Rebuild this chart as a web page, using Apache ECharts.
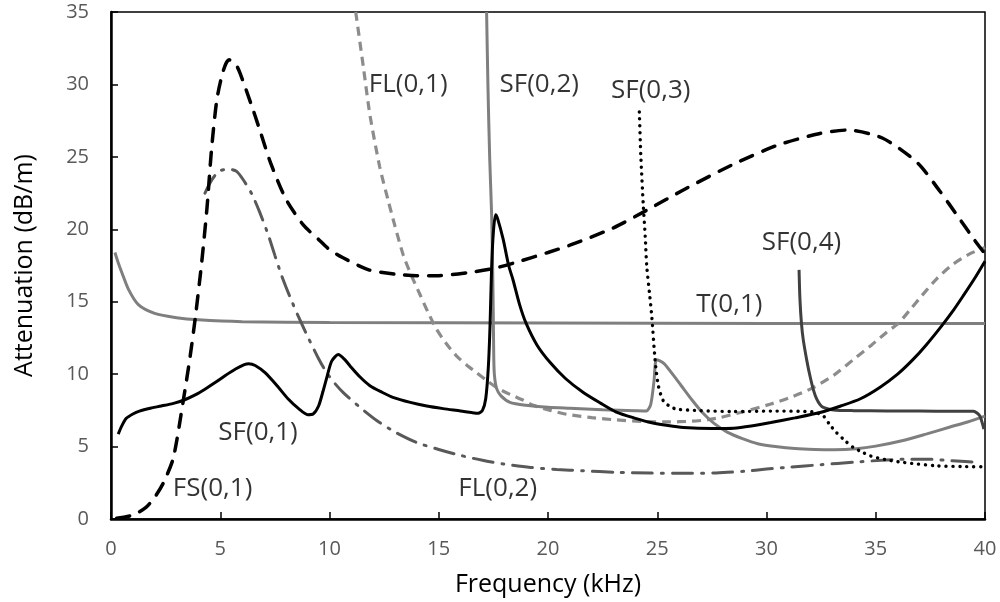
<!DOCTYPE html>
<html>
<head>
<meta charset="utf-8">
<title>Attenuation vs frequency</title>
<script src="https://cdn.jsdelivr.net/npm/echarts@6/dist/echarts.min.js"></script>
<style>
  html, body { margin: 0; padding: 0; background: #fff; }
  #chart { width: 1000px; height: 602px; }
</style>
</head>
<body>
<div id="chart"></div>
<script>
// axis ticks
var xTicks = [0, 5, 10, 15, 20, 25, 30, 35, 40];
var yTicks = [0, 5, 10, 15, 20, 25, 30, 35];

// curves, [frequency kHz, attenuation dB/m]
var sf01 = [[0.33,5.86],[0.5,6.45],[0.7,6.95],[1.0,7.25],[1.3,7.45],[1.8,7.65],[2.3,7.8],[2.9,8.0],[3.4,8.25],[3.9,8.6],[4.3,8.96],[4.8,9.45],[5.2,9.87],[5.7,10.35],[6.1,10.65],[6.3,10.72],[6.6,10.6],[7.05,10.1],[7.6,9.2],[8.1,8.3],[8.6,7.6],[9.0,7.2],[9.25,7.25],[9.5,7.8],[9.7,8.8],[9.9,9.9],[10.1,10.9],[10.4,11.35],[10.7,11.0],[10.95,10.55],[11.4,9.8],[11.85,9.2],[12.4,8.75],[12.9,8.4],[13.7,8.05],[14.45,7.8],[15.2,7.62],[16.0,7.46],[16.5,7.35],[16.8,7.3],[17.0,7.5],[17.15,8.3],[17.27,10.5],[17.35,13.5],[17.42,17.4],[17.5,19.8],[17.6,21.0],[17.7,20.7],[17.95,19.3],[18.2,17.5],[18.4,16.5],[18.7,14.8],[19.0,13.5],[19.5,12.0],[20.1,10.8],[20.8,9.7],[21.6,8.75],[22.4,8.0],[23.1,7.4],[24.0,6.95],[24.7,6.66],[25.5,6.45],[26.2,6.32],[27.5,6.25],[28.5,6.27],[29.3,6.42],[30.2,6.66],[31.3,6.98],[32.45,7.35],[33.4,7.8],[34.3,8.3],[35.2,9.1],[36.0,10.0],[36.7,11.0],[37.3,12.0],[38.0,13.3],[38.55,14.4],[39.0,15.4],[39.5,16.55],[40,17.8]];
var fs01 = [[0.26,0.05],[1.0,0.27],[1.6,0.8],[2.0,1.5],[2.4,2.5],[2.85,4.2],[3.3,8.1],[3.6,11.0],[3.85,13.8],[4.15,17.7],[4.4,21.6],[4.6,25.5],[4.85,29.0],[5.15,31.0],[5.4,31.7],[5.7,31.4],[5.9,30.8],[6.4,28.7],[6.8,26.9],[7.3,24.6],[8.0,22.1],[8.8,20.3],[9.5,19.3],[10.0,18.6],[10.6,18.05],[11.8,17.2],[13.0,16.9],[14.0,16.8],[15.0,16.8],[16.3,17.0],[17.5,17.3],[18.5,17.7],[20.0,18.4],[21.0,18.9],[23.0,20.1],[24.5,21.3],[26.3,22.8],[28.5,24.5],[30.5,25.8],[32.4,26.6],[33.7,26.85],[35.3,26.3],[36.9,24.6],[37.9,22.7],[38.8,20.8],[39.5,19.3],[40,18.3]];
var t01 = [[0.18,18.4],[0.35,17.6],[0.5,17.0],[0.8,15.85],[1.25,14.8],[2.0,14.2],[3.0,13.9],[4.0,13.75],[6.0,13.62],[10.0,13.57],[20.0,13.53],[30.0,13.5],[40,13.5]];
var fl01 = [[11.2,35],[11.55,31.2],[11.85,27.9],[12.3,24.3],[12.7,21.9],[13.0,20.2],[13.38,18.2],[13.75,16.8],[14.14,15.5],[14.5,14.3],[14.9,13.1],[15.35,12.1],[15.82,11.25],[16.3,10.6],[16.74,10.1],[17.2,9.55],[17.65,9.07],[18.26,8.6],[18.87,8.2],[19.33,7.85],[20.1,7.5],[20.86,7.23],[22.0,7.0],[23.14,6.84],[24.3,6.74],[25.43,6.7],[26.6,6.75],[27.3,6.85],[27.87,7.0],[28.8,7.35],[30.16,7.92],[31.2,8.45],[32.14,9.07],[33.1,9.95],[33.97,11.0],[34.8,12.0],[35.5,12.9],[36.03,13.5],[36.6,14.5],[37.1,15.4],[37.8,16.6],[38.55,17.6],[39.3,18.3],[40,18.75]];
var fl02 = [[4.3,22.5],[4.53,23.2],[4.75,23.7],[5.0,24.05],[5.4,24.15],[5.75,24.0],[6.06,23.4],[6.44,22.45],[6.8,21.2],[7.2,19.6],[7.5,18.2],[7.81,16.8],[8.2,15.3],[8.57,14.0],[9.0,12.6],[9.49,11.1],[9.87,10.1],[10.25,9.35],[10.63,8.73],[11.4,7.7],[12.16,6.8],[13.0,6.0],[13.99,5.28],[15.0,4.8],[15.97,4.4],[17.0,4.05],[17.95,3.8],[19.2,3.56],[20.4,3.42],[21.6,3.33],[23.1,3.22],[24.67,3.17],[26.2,3.15],[27.7,3.18],[29.0,3.3],[30.0,3.45],[31.0,3.57],[32.5,3.75],[34.0,3.92],[35.5,4.08],[36.5,4.13],[37.3,4.13],[38.5,4.02],[39.8,3.9]];
var sf02 = [[17.19,35],[17.25,30],[17.33,25],[17.42,21],[17.47,17],[17.5,13.5],[17.52,11],[17.55,9.9],[17.65,9.0],[17.85,8.5],[18.26,8.05],[19.0,7.85],[20.0,7.72],[21.0,7.65],[22.5,7.55],[24.0,7.48],[24.5,7.46],[24.7,7.9],[24.85,9.5],[24.97,11.0],[25.3,10.75],[25.7,10.0],[26.1,9.2],[26.6,8.2],[27.1,7.3],[27.6,6.6],[28.2,6.0],[28.9,5.55],[29.6,5.2],[30.5,4.98],[31.3,4.86],[32.2,4.8],[33.1,4.78],[34.1,4.85],[35.0,5.03],[36.2,5.4],[37.3,5.86],[38.4,6.35],[39.2,6.7],[40,7.1]];
var sf03 = [[24.18,28.1],[24.25,25],[24.36,21.7],[24.45,19.5],[24.52,17.45],[24.65,15.5],[24.75,14.0],[24.9,11.0],[25.05,9.2],[25.28,8.15],[25.6,7.75],[25.9,7.58],[26.96,7.48],[28.5,7.42],[30.2,7.45],[32.1,7.4],[32.6,7.12],[32.9,6.5],[33.2,5.97],[33.6,5.4],[33.97,4.94],[34.4,4.6],[34.74,4.36],[35.5,4.08],[36.3,3.9],[37.8,3.67],[39.0,3.62],[40,3.6]];
var sf04 = [[31.49,17.2],[31.53,15.2],[31.6,13.5],[31.68,12.4],[31.85,10.9],[31.99,9.87],[32.15,8.9],[32.3,8.27],[32.45,7.9],[32.6,7.7],[33.06,7.53],[34.0,7.48],[35.5,7.46],[37.0,7.45],[38.5,7.44],[39.47,7.44],[39.65,7.3],[39.77,7.1],[39.88,6.6],[39.95,6.2]];

// curve labels placed in the plot
var noteText = ['FL(0,1)', 'SF(0,2)', 'SF(0,3)', 'SF(0,4)', 'T(0,1)', 'SF(0,1)', 'FS(0,1)', 'FL(0,2)'];
var noteX = [13.6, 19.6, 24.7, 31.6, 28.3, 6.73, 4.65, 17.7];
var noteY = [30.0, 30.0, 29.6, 19.1, 14.8, 5.97, 2.07, 2.07];

var font = '"Open Sans", "Liberation Sans", sans-serif';

function curve(name, data, color, width, dash, cap) {
	return {
		name: name,
		type: 'line',
		data: data,
		showSymbol: false,
		symbol: 'none',
		smooth: 0.25,
		clip: true,
		silent: true,
		lineStyle: { color: color, width: width, type: dash || 'solid', cap: cap || 'butt' }
	};
}

var chart = echarts.init(document.getElementById('chart'), null, { renderer: 'canvas' });

var option = {
	animation: false,
	backgroundColor: '#fff',
	grid: {
		left: 111, right: 15, top: 12, bottom: 82,
		show: true, borderColor: '#000', borderWidth: 1.5, backgroundColor: 'transparent'
	},
	xAxis: {
		type: 'value',
		min: xTicks[0], max: xTicks[xTicks.length - 1], interval: 5,
		name: 'Frequency (kHz)', nameLocation: 'middle', nameGap: 53,
		nameTextStyle: { color: '#000', fontSize: 25, fontFamily: font },
		axisLine: { show: true, onZero: false, lineStyle: { color: '#000', width: 2.5 } },
		axisTick: { show: true, inside: true, length: 7, lineStyle: { color: '#000', width: 1.5 } },
		axisLabel: { color: '#595959', fontSize: 20, fontFamily: font, margin: 20 },
		splitLine: { show: false }
	},
	yAxis: {
		type: 'value',
		min: yTicks[0], max: yTicks[yTicks.length - 1], interval: 5,
		name: 'Attenuation (dB/m)', nameLocation: 'middle', nameGap: 74,
		nameTextStyle: { color: '#000', fontSize: 25, fontFamily: font },
		axisLine: { show: true, onZero: false, lineStyle: { color: '#000', width: 2.5 } },
		axisTick: { show: true, inside: true, length: 7, lineStyle: { color: '#000', width: 1.5 } },
		axisLabel: { color: '#595959', fontSize: 20, fontFamily: font, margin: 22 },
		splitLine: { show: false }
	},
	series: [
		curve('T(0,1)', t01, '#7f7f7f', 3),
		curve('FL(0,2)', fl02, '#595959', 3, [20, 9, 2, 9], 'round'),
		curve('FL(0,1)', fl01, '#8c8c8c', 3.2, [9, 6], 'butt'),
		curve('SF(0,2)', sf02, '#7f7f7f', 3),
		curve('SF(0,3)', sf03, '#000', 3.4, [0.1, 6.8], 'round'),
		curve('SF(0,4)', sf04, '#404040', 3),
		curve('FS(0,1)', fs01, '#000', 3.5, [13, 11], 'round'),
		curve('SF(0,1)', sf01, '#000', 3),
		{
			name: 'notes',
			type: 'scatter',
			silent: true,
			symbolSize: 0,
			data: noteX.map(function (x, i) { return [x, noteY[i]]; }),
			label: {
				show: true,
				position: 'inside',
				color: '#000',
				fontSize: 26,
				fontFamily: font,
				formatter: function (p) { return noteText[p.dataIndex]; }
			},
			z: 10
		}
	]
};

chart.setOption(option);
</script>
</body>
</html>
